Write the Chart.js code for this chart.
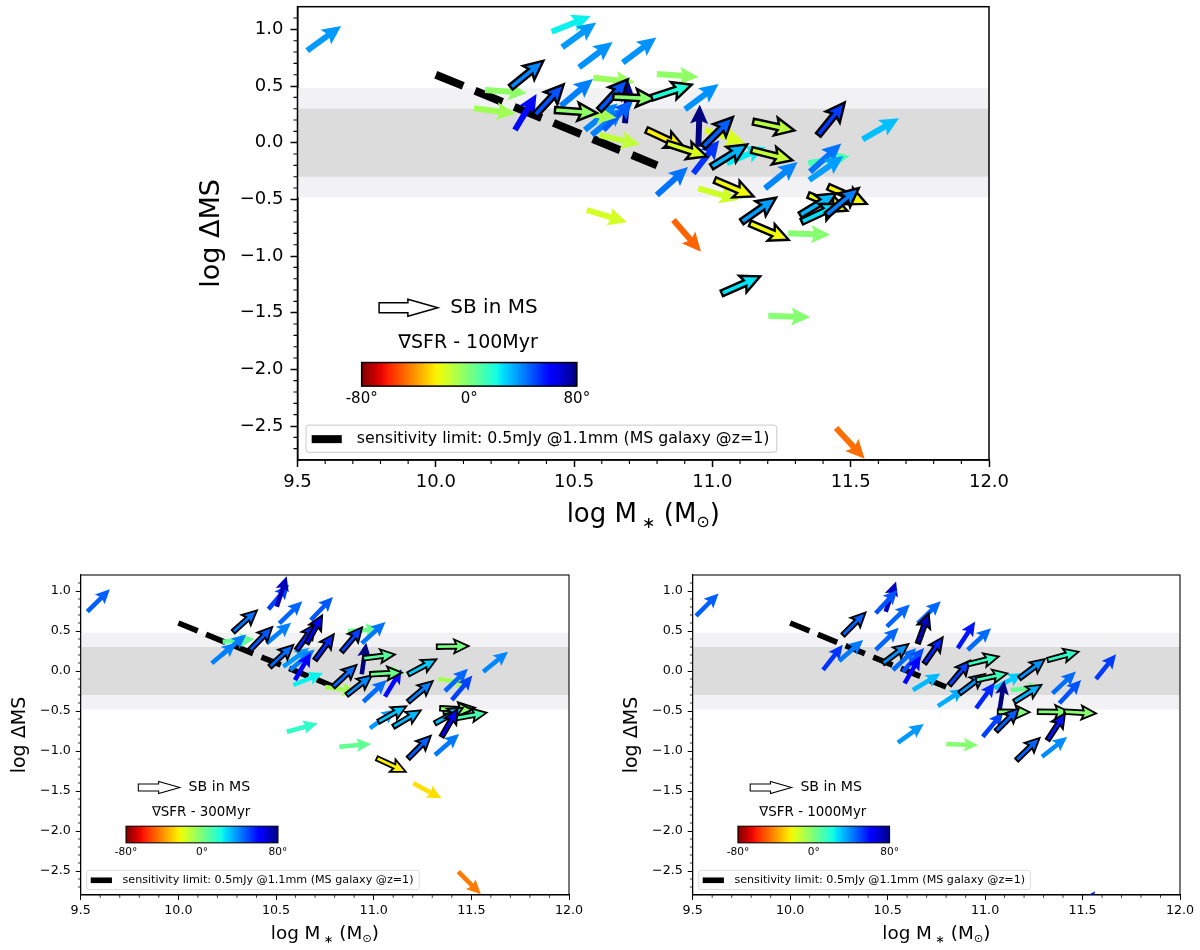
<!DOCTYPE html>
<html>
<head>
<meta charset="utf-8">
<script src="https://cdn.jsdelivr.net/npm/chart.js@4.4.1/dist/chart.umd.min.js"></script>
<style>
  html, body { margin: 0; padding: 0; background: #fff; }
  body { width: 1200px; height: 950px; position: relative; overflow: hidden; }
  canvas { position: absolute; }
</style>
</head>
<body>
<canvas id="cTop" width="890" height="545" style="left:150px;top:0px"></canvas>
<canvas id="cLeft" width="620" height="390" style="left:0px;top:560px"></canvas>
<canvas id="cRight" width="588" height="390" style="left:612px;top:560px"></canvas>
<script>
const FONT = "'DejaVu Sans', sans-serif";

// axes
const xRange = [9.5, 12.0];
const yRange = [-2.8, 1.2];
const xTicks = [9.5, 10.0, 10.5, 11.0, 11.5, 12.0];
const yTicks = [-2.5, -2.0, -1.5, -1.0, -0.5, 0.0, 0.5, 1.0];

// main sequence bands (log ΔMS)
const bandOuter = [-0.48, 0.48];
const bandInner = [-0.3, 0.3];

// sensitivity limit, 0.5mJy @1.1mm
const limX = [10.0, 10.8];
const limY = [0.6, -0.2];

const cbarTicks = [-80, 0, 80];
const legendText = "sensitivity limit: 0.5mJy @1.1mm (MS galaxy @z=1)";

// ∇SFR - 100Myr : tail position, direction (deg), black edge
const topX = [9.535, 10.419, 10.457, 10.518, 10.676, 10.271, 10.178, 10.138, 10.286, 10.359,
  10.452, 10.431, 10.569, 10.591, 10.642, 10.684, 10.539, 10.564, 10.606, 10.591,
  10.781, 10.799, 10.901, 10.949, 10.762, 10.835, 10.973, 10.967, 10.997, 11.052,
  10.931, 11.148, 11.142, 11.383, 11.543, 11.347, 11.353, 11.350, 11.190, 10.799,
  10.949, 11.009, 11.106, 11.136, 11.274, 11.419, 11.347, 11.317, 11.323, 11.413,
  10.546, 10.859, 11.034, 11.202, 11.447, 10.503];
const topY = [0.812, 0.979, 0.842, 0.665, 0.706, 0.489, 0.465, 0.303, 0.112, 0.244,
  0.324, 0.288, 0.573, 0.288, 0.406, 0.171, 0.112, 0.068, 0.112, 0.068,
  0.397, 0.606, 0.294, -0.036, 0.112, -0.006, 0.112, -0.036, -0.212, -0.182,
  -0.270, 0.185, -0.065, 0.068, 0.030, -0.182, -0.256, -0.330, -0.403, -0.462,
  -0.403, -0.330, -0.698, -0.712, -0.800, -0.389, -0.462, -0.638, -0.698, -0.638,
  -0.594, -0.683, -1.330, -1.527, -2.518, 0.271];
const topAng = [36, 22, 36, 37, 37, 39, -4, -7, 59, 47,
  40, -4, -6, 47, -3, 85, 39, 40, 45, -13,
  18, -4, 37, 88, -25, -18, -18, 45, 32, 23,
  52, -12, -14, 51, 30, 10, 42, 35, 39, 42,
  -16, -23, 35, -23, -2, -24, -22, 31, 25, 40,
  -17, -49, 24, -2, -47, -8];
const topEdge = [0, 0, 0, 0, 0, 1, 0, 0, 0, 1,
  0, 1, 0, 1, 1, 0, 0, 0, 0, 0,
  1, 0, 0, 0, 1, 1, 0, 1, 1, 0,
  0, 1, 1, 1, 0, 0, 0, 0, 0, 0,
  0, 1, 1, 1, 0, 1, 1, 1, 1, 1,
  0, 0, 1, 0, 0, 0];

// ∇SFR - 300Myr
const leftX = [9.534, 10.461, 10.504, 10.517, 10.678, 10.281, 10.227, 10.171, 10.222, 10.367,
  10.452, 10.606, 10.657, 10.469, 10.537, 10.572, 10.700, 10.597, 10.589, 10.793,
  10.751, 10.862, 10.836, 10.869, 10.939, 10.947, 10.939, 10.981, 10.998, 11.177,
  11.323, 11.561, 11.331, 11.365, 11.400, 11.177, 10.947, 11.058, 11.024, 10.981,
  11.101, 11.357, 11.340, 11.417, 11.314, 11.348, 10.824, 11.177, 11.314, 11.016,
  11.203, 11.433, 10.555];
const leftY = [0.741, 0.771, 0.804, 0.596, 0.638, 0.491, 0.366, 0.096, 0.200, 0.263,
  0.346, 0.263, 0.346, 0.054, 0.054, 0.013, 0.138, -0.113, -0.175, -0.196,
  -0.200, -0.300, 0.241, 0.500, 0.346, 0.159, -0.041, -0.041, -0.009, -0.041,
  0.304, -0.009, -0.100, -0.250, -0.363, -0.384, -0.384, -0.321, -0.634, -0.716,
  -0.696, -0.509, -0.466, -0.591, -0.654, -0.821, -0.946, -1.091, -1.050, -1.091,
  -1.404, -2.509, -0.759];
const leftAng = [45, 50, 72, 44, 46, 42, 5, 40, 40, 46,
  40, 54, 61, 43, 36, 40, 54, 60, 22, 43,
  -8, 38, 50, 3, 42, 7, 82, 3, -3, 28,
  1, 39, -8, 44, 50, 40, 43, 59, 29, 36,
  31, 7, -3, 10, 29, 60, 5, 45, 41, -25,
  -28, -45, 15];
const leftEdge = [0, 0, 0, 0, 0, 1, 0, 0, 0, 1,
  0, 1, 1, 1, 0, 0, 1, 0, 0, 1,
  0, 1, 1, 0, 0, 1, 0, 1, 0, 1,
  1, 0, 0, 0, 0, 1, 0, 0, 1, 0,
  1, 1, 1, 1, 1, 1, 0, 1, 0, 1,
  0, 0, 0];

// ∇SFR - 1000Myr
const rightX = [9.517, 10.490, 10.439, 10.496, 10.655, 10.271, 10.169, 10.251, 10.439, 10.476,
  10.527, 10.578, 10.655, 10.689, 10.587, 10.630, 10.758, 10.553, 10.801, 10.860,
  10.911, 10.817, 10.911, 10.869, 10.954, 10.954, 11.048, 11.073, 11.065, 11.057,
  10.988, 11.176, 11.150, 11.133, 11.321, 11.346, 11.381, 11.569, 11.270, 11.406,
  11.321, 11.162, 11.292, 11.470];
const rightY = [0.688, 0.741, 0.721, 0.554, 0.596, 0.450, 0.013, 0.125, 0.263, 0.096,
  0.013, -0.009, 0.346, 0.096, -0.154, -0.238, -0.438, -0.896, -0.913, 0.284,
  0.263, -0.175, 0.084, -0.279, -0.113, -0.466, -0.216, -0.509, -0.509, -0.750,
  -0.821, -0.091, -0.384, -0.238, 0.138, -0.279, -0.404, -0.100, -0.509, -0.509,
  -0.863, -1.113, -1.071, -3.080];
const rightAng = [45, 71, 47, 44, 44, 45, 52, 41, 44, 37,
  43, 48, 70, 55, 60, 31, 33, 36, -2, 57,
  43, 50, 14, 37, 12, 54, 28, 81, -1, 45,
  50, 37, 32, 5, 15, 43, 47, 51, -1, -3,
  57, 44, 38, 55];
const rightEdge = [0, 0, 0, 0, 0, 1, 0, 0, 0, 1,
  0, 0, 1, 1, 0, 0, 0, 0, 0, 0,
  0, 1, 1, 1, 1, 0, 0, 0, 1, 1,
  0, 1, 1, 0, 1, 0, 0, 0, 1, 1,
  1, 1, 0, 0];

// jet colormap (matplotlib segment data), reversed so -80° is red and 80° dark blue
const JET = {
  r: [[0, 0], [0.35, 0], [0.66, 1], [0.89, 1], [1, 0.5]],
  g: [[0, 0], [0.125, 0], [0.375, 1], [0.64, 1], [0.91, 0], [1, 0]],
  b: [[0, 0.5], [0.11, 1], [0.34, 1], [0.65, 0], [1, 0]],
};
function seg(pts, t) {
  for (let i = 1; i < pts.length; i++) {
    if (t <= pts[i][0]) {
      const [x0, y0] = pts[i - 1], [x1, y1] = pts[i];
      return y0 + (y1 - y0) * (t - x0) / (x1 - x0);
    }
  }
  return pts[pts.length - 1][1];
}
function jet(t) {
  t = Math.min(1, Math.max(0, t));
  const c = k => Math.round(255 * seg(JET[k], t));
  return `rgb(${c("r")},${c("g")},${c("b")})`;
}
const angleColor = a => jet((80 - a) / 160);

function arrowPath(ctx, x, y, ang, L, w, hw, hl, hal) {
  ctx.save();
  ctx.translate(x, y);
  ctx.rotate(-ang * Math.PI / 180);
  ctx.beginPath();
  ctx.moveTo(0, -w / 2);
  ctx.lineTo(L - hal, -w / 2);
  ctx.lineTo(L - hl, -hw / 2);
  ctx.lineTo(L, 0);
  ctx.lineTo(L - hl, hw / 2);
  ctx.lineTo(L - hal, w / 2);
  ctx.lineTo(0, w / 2);
  ctx.closePath();
  ctx.restore();
}

const fmtY = v => (v < 0 ? "\u2212" : "") + Math.abs(v).toFixed(1);

function makeDecor(p) {
  const s = p.s, q = p.as;
  return {
    id: "decor",
    beforeDatasetsDraw(chart) {
      const { ctx, chartArea: a, scales: { y } } = chart;
      ctx.save();
      const band = (r, col) => {
        const y0 = y.getPixelForValue(r[1]), y1 = y.getPixelForValue(r[0]);
        ctx.fillStyle = col;
        ctx.fillRect(a.left, y0, a.right - a.left, y1 - y0);
      };
      band(bandOuter, "#f2f2f4");
      band(bandInner, "#dcdcdc");
      ctx.restore();
    },
    afterDatasetsDraw(chart) {
      const { ctx, chartArea: a, scales: { x, y } } = chart;
      const W = a.right - a.left, H = a.bottom - a.top;
      const fx = f => a.left + f * W, fy = f => a.top + f * H;

      // quiver arrows: plain ones first, edged ones on top
      const pts = chart.getDatasetMeta(1).data;
      ctx.save();
      ctx.beginPath();
      ctx.rect(a.left, a.top, W, H);
      ctx.clip();
      ctx.lineJoin = "miter";
      [0, 1].forEach(pass => {
        pts.forEach((pt, i) => {
          if (p.edge[i] !== pass) return;
          arrowPath(ctx, pt.x, pt.y, p.ang[i], 42 * q, 6 * q, 18 * q, 19 * q, 16.5 * q);
          ctx.fillStyle = angleColor(p.ang[i]);
          ctx.fill();
          if (pass) {
            ctx.lineWidth = 2.4 * q;
            ctx.strokeStyle = "#000";
            ctx.stroke();
          }
        });
      });
      ctx.restore();

      ctx.save();
      // frame
      ctx.strokeStyle = "#000";
      ctx.lineWidth = 1.5 * s;
      ctx.strokeRect(a.left, a.top, W, H);

      // minor ticks every 0.1
      ctx.lineWidth = 1.1 * s;
      ctx.beginPath();
      for (let v = 95; v <= 120; v++) {
        if (v % 5 === 0) continue;
        const px = x.getPixelForValue(v / 10);
        ctx.moveTo(px, a.bottom);
        ctx.lineTo(px, a.bottom + 4 * s);
      }
      for (let v = -27; v <= 11; v++) {
        if (v % 5 === 0) continue;
        const py = y.getPixelForValue(v / 10);
        ctx.moveTo(a.left, py);
        ctx.lineTo(a.left - 4 * s, py);
      }
      ctx.stroke();

      // "SB in MS" key arrow
      const ax0 = fx(0.118), ax1 = fx(0.203), ay = fy(0.664);
      const sh = 5 * s, hh = 8.5 * s, hlen = 30 * s;
      ctx.beginPath();
      ctx.moveTo(ax0, ay - sh);
      ctx.lineTo(ax1 - hlen, ay - sh);
      ctx.lineTo(ax1 - hlen, ay - hh);
      ctx.lineTo(ax1, ay);
      ctx.lineTo(ax1 - hlen, ay + hh);
      ctx.lineTo(ax1 - hlen, ay + sh);
      ctx.lineTo(ax0, ay + sh);
      ctx.closePath();
      ctx.fillStyle = "#fff";
      ctx.fill();
      ctx.lineWidth = 1.5 * s;
      ctx.stroke();
      ctx.fillStyle = "#000";
      ctx.font = `${20 * s}px ${FONT}`;
      ctx.textAlign = "left";
      ctx.textBaseline = "middle";
      ctx.fillText("SB in MS", fx(0.221), ay);

      // colour bar
      ctx.font = `${19 * s}px ${FONT}`;
      ctx.textAlign = "center";
      ctx.fillText(p.cbarTitle, fx(0.2466), fy(0.741));
      const cx0 = fx(0.0928), cx1 = fx(0.404), cy0 = fy(0.785), cy1 = fy(0.837);
      const grad = ctx.createLinearGradient(cx0, 0, cx1, 0);
      for (let i = 0; i <= 32; i++) grad.addColorStop(i / 32, jet(1 - i / 32));
      ctx.fillStyle = grad;
      ctx.fillRect(cx0, cy0, cx1 - cx0, cy1 - cy0);
      ctx.lineWidth = 1.5 * s;
      ctx.strokeRect(cx0, cy0, cx1 - cx0, cy1 - cy0);
      ctx.fillStyle = "#000";
      ctx.font = `${15 * s}px ${FONT}`;
      cbarTicks.forEach(t => {
        const tx = cx0 + (t + 80) / 160 * (cx1 - cx0);
        ctx.fillText(t + "\u00b0", tx, fy(0.866));
      });

      // legend
      const lx0 = fx(0.0123), lx1 = fx(0.693), ly0 = fy(0.923), ly1 = fy(0.983);
      ctx.fillStyle = "rgba(255,255,255,0.8)";
      ctx.strokeStyle = "#d5d5d5";
      ctx.lineWidth = 1.2 * s;
      ctx.beginPath();
      ctx.roundRect(lx0, ly0, lx1 - lx0, ly1 - ly0, 3 * s);
      ctx.fill();
      ctx.stroke();
      const lyc = fy(0.954);
      ctx.strokeStyle = "#000";
      ctx.lineWidth = 8 * s;
      ctx.beginPath();
      ctx.moveTo(fx(0.0205), lyc);
      ctx.lineTo(fx(0.064), lyc);
      ctx.stroke();
      ctx.font = `100px ${FONT}`;
      const lsize = 100 * (0.597 * W) / ctx.measureText(legendText).width;
      ctx.font = `${lsize}px ${FONT}`;
      ctx.fillStyle = "#000";
      ctx.textAlign = "left";
      ctx.fillText(legendText, fx(0.0856), lyc);

      // axis titles
      ctx.save();
      ctx.translate(a.left - 85.5 * s, (a.top + a.bottom) / 2);
      ctx.rotate(-Math.PI / 2);
      ctx.font = `${27 * s}px ${FONT}`;
      ctx.textAlign = "center";
      ctx.textBaseline = "middle";
      ctx.fillText("log \u0394MS", 0, 0);
      ctx.restore();

      const big = `${26 * s}px ${FONT}`, small = `${16 * s}px ${FONT}`;
      const parts = [["log M", big, 0], [" \u2217", small, 6 * s], [" (M", big, 0], ["\u2299", small, 5 * s], [")", big, 0]];
      let total = 0;
      parts.forEach(r => { ctx.font = r[1]; total += ctx.measureText(r[0]).width; });
      let tx = (a.left + a.right) / 2 - total / 2;
      const base = a.bottom + 61.7 * s;
      ctx.textAlign = "left";
      ctx.textBaseline = "alphabetic";
      parts.forEach(r => {
        ctx.font = r[1];
        ctx.fillText(r[0], tx, base + r[2]);
        tx += ctx.measureText(r[0]).width;
      });
      ctx.restore();
    }
  };
}

function buildPanel(id, p) {
  const s = p.s;
  const lineW = 8 * s;
  const axisX = {
    type: "linear", min: xRange[0], max: xRange[1],
    afterBuildTicks: sc => { sc.ticks = xTicks.map(v => ({ value: v })); },
    afterFit: sc => { sc.height = p.xh; sc.paddingLeft = 0; sc.paddingRight = 0; },
    ticks: { autoSkip: false, maxRotation: 0, color: "#000", padding: 5 * s,
      font: { family: FONT, size: 18 * s }, callback: v => v.toFixed(1) },
    grid: { drawOnChartArea: false, drawTicks: true, tickLength: 7 * s, tickWidth: 1.5 * s, tickColor: "#000" },
    border: { display: true, color: "#000", width: 1.5 * s },
  };
  const axisY = {
    type: "linear", min: yRange[0], max: yRange[1],
    afterBuildTicks: sc => { sc.ticks = yTicks.map(v => ({ value: v })); },
    afterFit: sc => { sc.width = p.yw; sc.paddingTop = 0; sc.paddingBottom = 0; },
    ticks: { autoSkip: false, color: "#000", padding: 7 * s,
      font: { family: FONT, size: 18 * s }, callback: v => fmtY(v) },
    grid: { drawOnChartArea: false, drawTicks: true, tickLength: 7 * s, tickWidth: 1.5 * s, tickColor: "#000" },
    border: { display: true, color: "#000", width: 1.5 * s },
  };
  return new Chart(document.getElementById(id), {
    type: "scatter",
    data: {
      datasets: [
        {
          type: "line",
          data: limX.map((v, i) => ({ x: v, y: limY[i] })),
          borderColor: "#000",
          borderWidth: lineW,
          borderDash: [3.7 * lineW, 1.6 * lineW],
          borderCapStyle: "butt",
          pointRadius: 0,
          fill: false,
        },
        {
          data: p.x.map((v, i) => ({ x: v, y: p.y[i] })),
          pointRadius: 0,
          pointHoverRadius: 0,
        },
      ],
    },
    options: {
      responsive: false,
      animation: false,
      events: [],
      layout: { padding: { left: 0, top: p.top, right: p.right, bottom: 0 } },
      plugins: { legend: { display: false }, tooltip: { enabled: false } },
      scales: { x: axisX, y: axisY },
    },
    plugins: [makeDecor(p)],
  });
}

buildPanel("cTop", { s: 1, as: 1, x: topX, y: topY, ang: topAng, edge: topEdge,
  cbarTitle: "\u2207SFR - 100Myr", yw: 147.5, xh: 85, top: 6.7, right: 51 });
buildPanel("cLeft", { s: 0.706, as: 0.76, x: leftX, y: leftY, ang: leftAng, edge: leftEdge,
  cbarTitle: "\u2207SFR - 300Myr", yw: 80.7, xh: 55, top: 15, right: 51 });
buildPanel("cRight", { s: 0.706, as: 0.76, x: rightX, y: rightY, ang: rightAng, edge: rightEdge,
  cbarTitle: "\u2207SFR - 1000Myr", yw: 80.7, xh: 55, top: 15, right: 20 });
</script>
</body>
</html>
